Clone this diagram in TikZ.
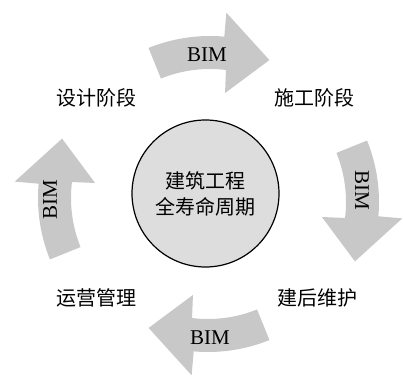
\documentclass[tikz,border=0pt]{standalone}
\usepackage{fontspec}
\setmainfont{Liberation Serif}
\newfontfamily\cjk{Noto Sans CJK SC}
\definecolor{arrowgray}{RGB}{200,200,200}
\definecolor{circlegray}{RGB}{221,221,221}
\tikzset{
  ringarrow/.pic={
    \fill[arrowgray] (112:164) arc[start angle=112,end angle=85,radius=164]
      -- (85:188) -- (67:152) -- (82:108) -- (83:131)
      arc[start angle=83,end angle=112,radius=131] -- cycle;
  }
}
\begin{document}
\begin{tikzpicture}[x=1pt,y=1pt,
  stage/.style={font=\cjk\fontsize{20}{24}\selectfont, inner sep=0pt},
  bimtext/.style={font=\fontsize{21}{24}\selectfont, inner sep=0pt},
  core/.style={circle, draw=black, line width=1.2pt, fill=circlegray,
    minimum size=147pt, inner sep=0pt, align=center,
    font=\cjk\fontsize{20}{26}\selectfont}]
\useasboundingbox (0,0) rectangle (403,379);
% curved BIM arrows
\pic at (210,179) {ringarrow};
\pic[rotate=-90] at (215,177) {ringarrow};
\pic[rotate=180] at (208,191) {ringarrow};
\pic[rotate=90] at (202,181) {ringarrow};
% BIM labels
\node[bimtext] (b1) at (207,324) {BIM};
\node[bimtext, rotate=-90] (b2) at (362,189) {BIM};
\node[bimtext] (b3) at (210,41) {BIM};
\node[bimtext, rotate=90] (b4) at (50,179) {BIM};
% centre
\node[core] (c) at (205.5,185.5) {建筑工程\\全寿命周期};
% stages
\node[stage] (s1) at (96,281) {设计阶段};
\node[stage] (s2) at (314,281) {施工阶段};
\node[stage] (s3) at (317,81) {建后维护};
\node[stage] (s4) at (96,81) {运营管理};
\end{tikzpicture}
\end{document}
